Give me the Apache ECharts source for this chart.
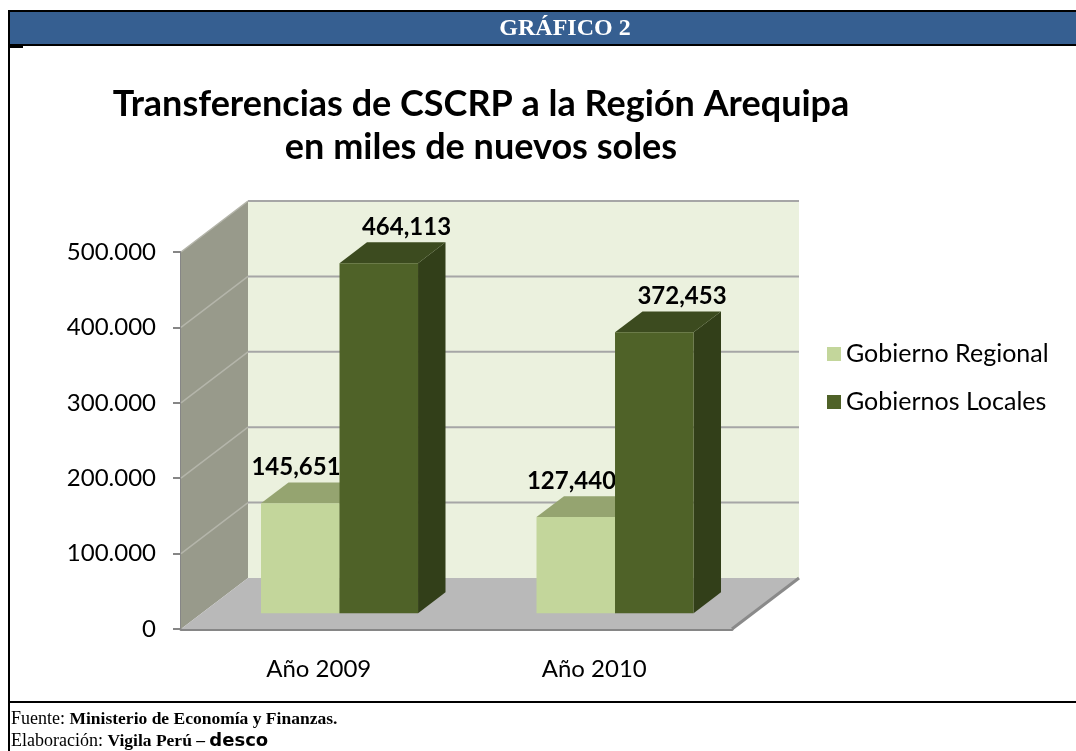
<!DOCTYPE html>
<html>
<head>
<meta charset="utf-8">
<title>Gráfico 2</title>
<script src="https://cdn.jsdelivr.net/npm/echarts@6/dist/echarts.min.js"></script>
<style>
  html, body { margin: 0; padding: 0; background: #fff; }
  #chart { width: 1076px; height: 751px; }
</style>
</head>
<body>
<div id="chart"></div>
<script>
// data
var categories = ['Año 2009', 'Año 2010'];
var gobiernoRegional = [145651, 127440];
var gobiernosLocales = [464113, 372453];
var yTicks = [0, 100000, 200000, 300000, 400000, 500000];
var yTickLabels = ['0', '100.000', '200.000', '300.000', '400.000', '500.000'];

// 3d look
var DX = 67, DY = -51;          // depth of the walls
var BAR_POS = 0.31;             // where the bars stand inside the depth
var BAR_DEPTH = 0.41;           // depth of a bar
var BAR_W = 0.285;              // bar width as part of the band

var chart = echarts.init(document.getElementById('chart'), null, { renderer: 'canvas' });

function renderWalls(params, api) {
  var cs = params.coordSys;
  var x0 = cs.x, x1 = cs.x + cs.width;
  var yb = api.coord([0, 0])[1];
  var yt = api.coord([0, yTicks[yTicks.length - 1]])[1];
  var kids = [];
  // back wall
  kids.push({ type: 'polygon', shape: { points: [[x0 + DX, yt + DY], [x1 + DX, yt + DY], [x1 + DX, yb + DY], [x0 + DX, yb + DY]] },
    style: { fill: '#ebf1de' } });
  // side wall
  kids.push({ type: 'polygon', shape: { points: [[x0, yt], [x0 + DX, yt + DY], [x0 + DX, yb + DY], [x0, yb]] },
    style: { fill: '#989a8b' } });
  // floor
  kids.push({ type: 'polygon', shape: { points: [[x0, yb], [x1, yb], [x1 + DX, yb + DY], [x0 + DX, yb + DY]] },
    style: { fill: '#b9b9b9' } });
  // grid lines
  yTicks.forEach(function (v) {
    if (v === 0) return;
    var y = api.coord([0, v])[1];
    kids.push({ type: 'line', shape: { x1: x0 + DX, y1: y + DY, x2: x1 + DX, y2: y + DY },
      style: { stroke: '#a6a6a6', lineWidth: 2 } });
    kids.push({ type: 'line', shape: { x1: x0, y1: y, x2: x0 + DX, y2: y + DY },
      style: { stroke: '#b4b5aa', lineWidth: 1.5 } });
  });
  // floor right edge
  kids.push({ type: 'line', shape: { x1: x1, y1: yb, x2: x1 + DX, y2: yb + DY },
    style: { stroke: '#8a8a8a', lineWidth: 3 } });
  return { type: 'group', children: kids };
}

function makeBarRender(side, front, top, sideCol, labelDx) {
  return function (params, api) {
    var idx = api.value(0);
    var val = api.value(1);
    var base = api.coord([idx, 0]);
    var tp = api.coord([idx, val]);
    var band = api.size([1, 0])[0];
    var w = band * BAR_W;
    var cx = base[0] + DX * BAR_POS;
    var left = side === 0 ? cx - w : cx;
    var yb = base[1] + DY * BAR_POS;
    var yt = tp[1] + DY * BAR_POS;
    var ddx = DX * BAR_DEPTH, ddy = DY * BAR_DEPTH;
    return {
      type: 'group',
      children: [
        { type: 'polygon', shape: { points: [[left + w, yt], [left + w + ddx, yt + ddy], [left + w + ddx, yb + ddy], [left + w, yb]] },
          style: { fill: sideCol } },
        { type: 'polygon', shape: { points: [[left, yt], [left + w, yt], [left + w + ddx, yt + ddy], [left + ddx, yt + ddy]] },
          style: { fill: top } },
        { type: 'rect', shape: { x: left, y: yt, width: w, height: yb - yt },
          style: { fill: front } },
        { type: 'text', x: left + labelDx, y: yt + ddy - 15,
          style: { text: val.toLocaleString('en-US'), fill: '#000', font: 'bold 24px Lato',
            align: 'center', verticalAlign: 'middle' } }
      ]
    };
  };
}

var option = {
  animation: false,
  title: {
    text: 'Transferencias de CSCRP a la Región Arequipa\nen miles de nuevos soles',
    left: 476,
    top: 78,
    textAlign: 'center',
    textStyle: { fontFamily: 'Lato', fontWeight: 'bold', fontSize: 36, lineHeight: 43, color: '#000' }
  },
  legend: {
    data: ['Gobierno Regional', 'Gobiernos Locales'],
    orient: 'vertical',
    left: 822,
    top: 336,
    icon: 'rect',
    itemWidth: 14,
    itemHeight: 14,
    itemGap: 22,
    textStyle: { fontFamily: 'Lato', fontSize: 25, lineHeight: 26, color: '#000' }
  },
  grid: { left: 181, top: 252, width: 551, height: 377 },
  xAxis: {
    type: 'category',
    data: categories,
    axisLine: { lineStyle: { color: '#868686', width: 3 } },
    axisTick: { length: 8, lineStyle: { color: '#868686', width: 2 } },
    axisLabel: { fontFamily: 'Lato', fontSize: 24, color: '#000', margin: 28 }
  },
  yAxis: {
    type: 'value',
    min: yTicks[0],
    max: yTicks[yTicks.length - 1],
    interval: yTicks[1] - yTicks[0],
    axisLine: { show: true, lineStyle: { color: '#868686', width: 2 } },
    axisTick: { show: true, length: 8, lineStyle: { color: '#868686', width: 2 } },
    splitLine: { show: false },
    axisLabel: {
      fontFamily: 'Lato', fontSize: 24, color: '#000', margin: 25,
      formatter: function (v) { return yTickLabels[yTicks.indexOf(v)]; }
    }
  },
  graphic: [
    { type: 'rect', shape: { x: 9, y: 11, width: 1080, height: 34 }, style: { fill: '#365f91', stroke: '#000', lineWidth: 2 } },
    { type: 'text', x: 565, y: 29, style: { text: 'GRÁFICO 2', fill: '#fff', font: 'bold 24px "Liberation Serif"', align: 'center', verticalAlign: 'middle' } },
    { type: 'line', shape: { x1: 9, y1: 10, x2: 9, y2: 751 }, style: { stroke: '#000', lineWidth: 2 } },
    { type: 'line', shape: { x1: 9, y1: 47, x2: 23, y2: 47 }, style: { stroke: '#000', lineWidth: 2 } },
    { type: 'line', shape: { x1: 9, y1: 702, x2: 1076, y2: 702 }, style: { stroke: '#000', lineWidth: 2 } },
    { type: 'text', x: 11, y: 719, style: {
      text: '{n|Fuente: }{b|Ministerio de Economía y Finanzas.}', verticalAlign: 'middle',
      rich: { n: { font: '18px "Liberation Serif"', fill: '#000' }, b: { font: 'bold 17.5px "Liberation Serif"', fill: '#000' } } } },
    { type: 'text', x: 11, y: 741, style: {
      text: '{n|Elaboración: }{b|Vigila Perú – }{d|desco}', verticalAlign: 'middle',
      rich: { n: { font: '18px "Liberation Serif"', fill: '#000' }, b: { font: 'bold 17.5px "Liberation Serif"', fill: '#000' },
        d: { font: 'bold 18px "DejaVu Sans"', fill: '#000' } } } }
  ],
  series: [
    {
      type: 'custom',
      name: 'walls',
      silent: true,
      clip: false,
      z: 1,
      renderItem: renderWalls,
      data: [[0, 0]]
    },
    {
      type: 'custom',
      name: 'Gobierno Regional',
      clip: false,
      z: 2,
      itemStyle: { color: '#c3d69b' },
      renderItem: makeBarRender(0, '#c3d69b', '#95a470', '#7f8f58', 35),
      data: gobiernoRegional.map(function (v, i) { return [i, v]; })
    },
    {
      type: 'custom',
      name: 'Gobiernos Locales',
      clip: false,
      z: 3,
      itemStyle: { color: '#4f6228' },
      renderItem: makeBarRender(1, '#4f6228', '#3c4b1f', '#323f19', 67),
      data: gobiernosLocales.map(function (v, i) { return [i, v]; })
    }
  ]
};

chart.setOption(option);
</script>
</body>
</html>
